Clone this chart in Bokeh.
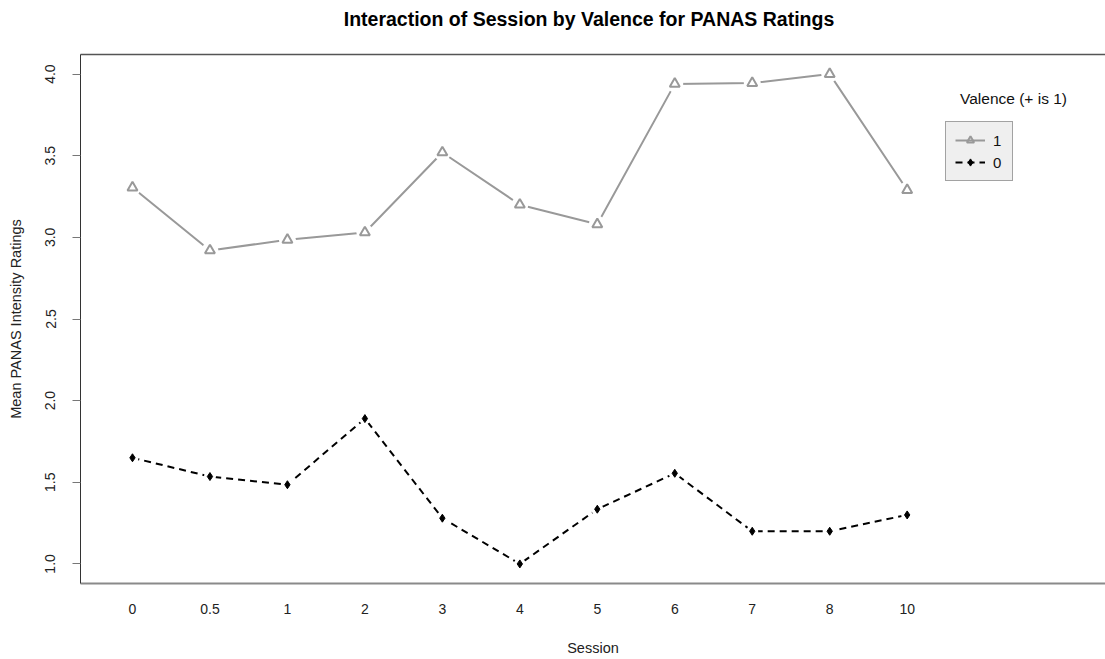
from bokeh.plotting import figure
from bokeh.layouts import column
from bokeh.models import (Range1d, FixedTicker, Legend, LegendItem, Label,
                          LinearAxis, PrintfTickFormatter, Div)
from bokeh.embed import file_html
from bokeh.resources import INLINE

# ---- data ----
sessions = ["0", "0.5", "1", "2", "3", "4", "5", "6", "7", "8", "10"]
valence_1 = [3.305, 2.92, 2.985, 3.03, 3.52, 3.20, 3.08, 3.94, 3.945, 4.00, 3.29]
valence_0 = [1.65, 1.535, 1.485, 1.89, 1.28, 1.00, 1.335, 1.555, 1.20, 1.20, 1.30]
y_ticks = [1.0, 1.5, 2.0, 2.5, 3.0, 3.5, 4.0]
legend_labels = ["1", "0"]
title_text = "Interaction of Session by Valence for PANAS Ratings"

xpos = list(range(len(sessions)))
FONT = "Liberation Sans"

title_div = Div(
    text=('<div style="margin:0; padding:0; margin-left:73px; width:1032px; '
          'text-align:center; line-height:38px; height:38px; '
          "font-family:'Liberation Sans'; font-size:19.5px; font-weight:bold; "
          'color:#000;">' + title_text + '</div>'),
    width=1105, height=38, margin=(0, 0, 0, 0))

p = figure(width=1105, height=621, output_backend="svg", toolbar_location=None,
           x_range=Range1d(-0.671, 12.56), y_range=Range1d(0.88, 4.12),
           min_border_left=80, min_border_right=0, min_border_top=16,
           min_border_bottom=76, x_axis_location="below", margin=(0, 0, 0, 0))

p.outline_line_color = None
p.grid.visible = False
p.background_fill_color = "white"
p.border_fill_color = "white"

# x axis
xa = p.xaxis[0]
xa.ticker = FixedTicker(ticks=xpos)
xa.major_label_overrides = {i: s for i, s in enumerate(sessions)}
xa.major_tick_out = 0
xa.major_tick_in = 0
xa.minor_tick_out = 0
xa.minor_tick_in = 0
xa.axis_line_color = "#8a8a8a"
xa.axis_line_width = 2
xa.major_label_standoff = 20
xa.major_label_text_font = FONT
xa.major_label_text_font_size = "14px"
xa.major_label_text_color = "#222222"
xa.axis_label = "Session"
xa.axis_label_text_font = FONT
xa.axis_label_text_font_size = "14.5px"
xa.axis_label_text_font_style = "normal"
xa.axis_label_text_color = "#222222"
xa.axis_label_standoff = 23

# y axis
ya = p.yaxis[0]
ya.ticker = FixedTicker(ticks=y_ticks)
ya.formatter = PrintfTickFormatter(format="%.1f")
ya.major_label_orientation = "vertical"
ya.major_tick_out = 8
ya.major_tick_in = 0
ya.minor_tick_out = 0
ya.minor_tick_in = 0
ya.axis_line_color = "#333333"
ya.major_tick_line_color = "#777777"
ya.major_label_standoff = 17
ya.major_label_text_font = FONT
ya.major_label_text_font_size = "14px"
ya.major_label_text_color = "#222222"
ya.axis_label = "Mean PANAS Intensity Ratings"
ya.axis_label_text_font = FONT
ya.axis_label_text_font_size = "14.5px"
ya.axis_label_text_font_style = "normal"
ya.axis_label_text_color = "#222222"
ya.axis_label_standoff = 19

# top border line
top = LinearAxis(ticker=FixedTicker(ticks=[]), major_label_text_font_size="0px",
                 major_tick_out=0, major_tick_in=0, minor_tick_out=0, minor_tick_in=0,
                 axis_line_color="#555555", axis_line_width=1.5)
p.add_layout(top, "above")

# series
GRAY = "#999999"
l1 = p.line(xpos, valence_1, line_color=GRAY, line_width=2)
p.scatter(xpos, valence_1, marker="circle", size=17, fill_color="white", line_color=None)
s1 = p.scatter(xpos, valence_1, marker="triangle", size=10, fill_color=None,
               line_color=GRAY, line_width=2)

l0 = p.line(xpos, valence_0, line_color="black", line_width=2, line_dash="7 5")
p.scatter(xpos, valence_0, marker="circle", size=12, fill_color="white", line_color=None)
s0 = p.scatter(xpos, valence_0, marker="diamond", size=8, fill_color="black",
               line_color="black")

legend = Legend(items=[LegendItem(label=legend_labels[0], renderers=[l1, s1]),
                       LegendItem(label=legend_labels[1], renderers=[l0, s0])],
                location=(865, 402), padding=9, spacing=4,
                glyph_width=30, glyph_height=18, label_height=18, label_width=10,
                label_standoff=8, margin=0,
                background_fill_color="#efefef", background_fill_alpha=1.0,
                border_line_color="#555555", border_line_width=1.5,
                label_text_font=FONT, label_text_font_size="15px",
                label_text_color="#111111")
p.add_layout(legend, "center")

p.add_layout(Label(x=933, y=485, x_units="screen", y_units="screen",
                   text="Valence (+ is 1)", text_align="center",
                   text_baseline="middle", text_font=FONT,
                   text_font_size="15.5px", text_color="#111111"))

layout = column(title_div, p, spacing=0)
open("out.html", "w").write(file_html(layout, INLINE))
